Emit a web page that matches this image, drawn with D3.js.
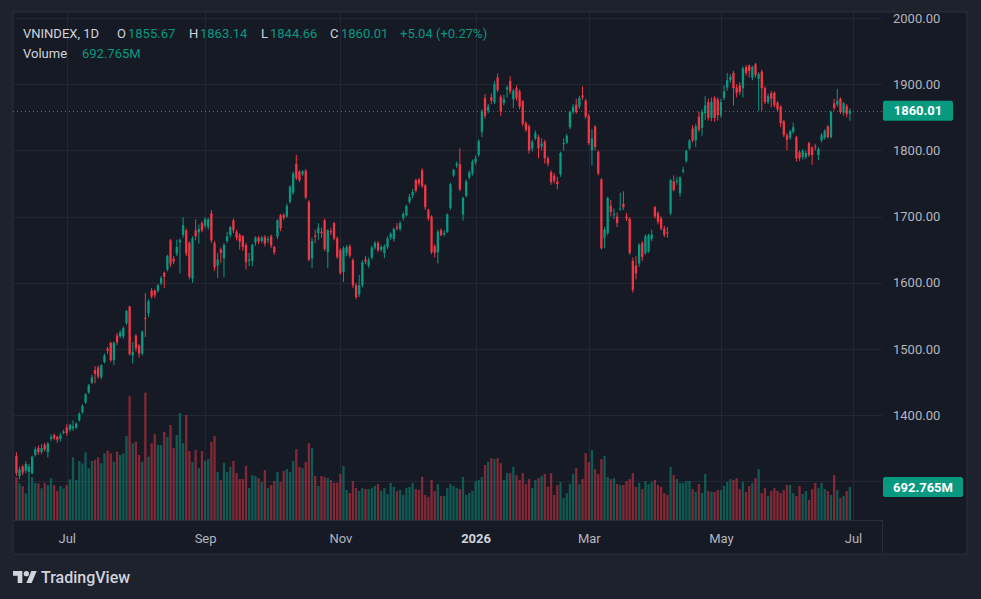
<!DOCTYPE html>
<html>
<head>
<meta charset="utf-8">
<script src="https://cdn.jsdelivr.net/npm/d3@7"></script>
<style>
    html, body { margin: 0; padding: 0; background: #1e222d; }
    svg { display: block; font-family: Roboto, "Open Sans", sans-serif; }
</style>
</head>
<body>
<svg id="chart" width="981" height="599"></svg>
<script>
// each row: [open, high, low, close, volume (M)], one array per month
const jun25 = [
    [1338,1344,1308,1312,900],[1308,1322,1303,1318,770],[1322,1325,1309,1313,714],[1316,1330,1312,1326,560],
    [1314,1326,1300,1322,805],[1312,1339,1310,1337,900],[1340,1352,1337,1348,780],[1350,1354,1340,1344,770],
    [1344,1356,1341,1350,665],[1355,1358,1345,1348,780],[1344,1359,1336,1357,735],[1364,1371,1361,1367,875],
    [1370,1372,1362,1365,735],[1367,1369,1358,1363,615],[1364,1373,1360,1369,714],[1373,1378,1371,1375,660]
];
const jul25 = [
    [1381,1386,1369,1373,735],[1378,1387,1375,1385,855],[1380,1392,1376,1383,1315],[1381,1389,1379,1387,840],
    [1392,1404,1390,1402,1240],[1404,1416,1402,1414,1190],[1419,1433,1417,1431,1420],[1434,1447,1432,1445,1085],
    [1449,1461,1447,1457,1240],[1468,1474,1448,1462,1260],[1472,1475,1455,1458,1315],[1457,1477,1454,1475,1190],
    [1480,1493,1478,1490,1400],[1500,1503,1492,1497,1455],[1509,1511,1480,1483,1400],[1483,1511,1475,1509,1225],
    [1520,1524,1506,1510,1435],[1519,1528,1516,1525,1365],[1519,1534,1515,1531,1400],[1539,1559,1536,1557,1765],
    [1564,1565,1490,1492,2600],[1490,1510,1478,1495,1610],[1520,1522,1496,1501,1645]
];
const aug25 = [
    [1505,1507,1487,1493,1365],[1493,1528,1490,1526,1225],[1547,1584,1518,1545,2675],[1554,1575,1548,1572,1330],
    [1588,1592,1576,1579,1610],[1588,1590,1577,1581,1805],[1588,1598,1585,1596,1575],[1599,1610,1596,1607,1575],
    [1615,1617,1592,1609,1850],[1620,1642,1617,1640,1745],[1664,1666,1624,1629,1995],[1636,1640,1628,1632,1510],
    [1644,1665,1640,1654,1785],[1661,1667,1614,1664,2250],[1672,1699,1668,1687,1615],[1679,1682,1640,1644,2205],
    [1660,1663,1605,1609,1450],[1606,1670,1600,1667,1220],[1679,1696,1664,1670,1470],[1676,1688,1659,1681,1090],
    [1690,1693,1676,1679,1450]
];
const sep25 = [
    [1686,1699,1682,1696,1240],[1684,1698,1680,1696,1280],[1705,1710,1660,1664,1640],[1660,1663,1618,1623,1765],
    [1626,1645,1607,1635,1010],[1650,1653,1630,1645,840],[1637,1660,1608,1657,1200],[1663,1677,1660,1670,1010],
    [1672,1686,1668,1684,1115],[1694,1697,1675,1679,1240],[1677,1680,1664,1668,985],[1672,1675,1650,1662,860],
    [1670,1672,1648,1654,860],[1657,1660,1620,1631,1135],[1633,1645,1625,1635,670],[1633,1659,1625,1657,945],
    [1661,1670,1656,1668,925],[1668,1671,1658,1662,880],[1663,1671,1660,1668,800],[1669,1672,1655,1659,1050]
];
const oct25 = [
    [1664,1670,1660,1666,670],[1670,1673,1652,1656,735],[1654,1656,1642,1646,820],[1670,1696,1666,1694,1010],
    [1702,1704,1678,1682,800],[1702,1705,1695,1698,1030],[1700,1720,1698,1716,1070],[1722,1747,1720,1745,1010],
    [1736,1768,1733,1765,1240],[1780,1793,1755,1758,1490],[1768,1770,1752,1755,1115],[1764,1770,1761,1768,1090],
    [1769,1772,1726,1729,1220],[1722,1725,1632,1635,1615],[1637,1668,1622,1663,1510],[1671,1680,1660,1669,925],
    [1675,1690,1665,1683,715],[1677,1683,1668,1675,925],[1694,1697,1648,1651,905],[1646,1681,1622,1679,880],
    [1678,1683,1672,1676,840],[1690,1692,1664,1667,780],[1667,1670,1636,1639,780]
];
const nov25 = [
    [1649,1652,1612,1615,965],[1616,1655,1601,1652,1135],[1645,1657,1640,1654,630],[1655,1658,1638,1641,565],
    [1634,1637,1592,1596,820],[1596,1600,1575,1578,670],[1582,1612,1578,1596,610],[1596,1634,1593,1631,670],
    [1635,1640,1628,1632,650],[1626,1638,1622,1634,650],[1638,1656,1635,1653,670],[1653,1663,1650,1660,715],
    [1660,1663,1646,1649,755],[1650,1657,1647,1654,610],[1645,1658,1637,1655,670],[1654,1670,1651,1667,545],
    [1668,1676,1665,1674,780],[1666,1683,1662,1681,695],[1684,1690,1679,1682,610],[1681,1693,1678,1690,630]
];
const dec25 = [
    [1698,1707,1694,1704,525],[1702,1718,1700,1716,670],[1722,1734,1719,1730,695],[1732,1742,1728,1737,780],
    [1755,1757,1736,1739,650],[1756,1758,1746,1750,630],[1770,1773,1743,1746,905],[1747,1749,1710,1714,525],
    [1710,1712,1694,1697,485],[1700,1702,1643,1646,840],[1655,1658,1638,1645,610],[1646,1680,1629,1677,755],
    [1679,1682,1670,1672,505],[1673,1679,1670,1675,505],[1677,1705,1675,1703,670],[1713,1751,1710,1749,755],
    [1762,1772,1760,1770,715],[1777,1783,1773,1780,670],[1779,1803,1738,1741,650],[1703,1730,1694,1728,905],
    [1731,1756,1729,1753,525],[1759,1770,1756,1767,565],[1765,1786,1762,1783,610]
];
const jan26 = [
    [1782,1792,1778,1788,820],[1793,1817,1790,1814,840],[1828,1862,1820,1859,905],[1879,1885,1848,1852,1155],
    [1860,1870,1856,1866,1220],[1880,1886,1870,1875,1300],[1873,1905,1870,1900,1280],[1910,1916,1888,1891,1300],
    [1881,1884,1852,1859,1195],[1872,1884,1868,1877,840],[1892,1898,1880,1895,985],[1905,1912,1885,1889,985],
    [1877,1893,1864,1890,1115],[1894,1898,1875,1879,945],[1889,1892,1862,1866,840],[1874,1876,1836,1840,985],
    [1841,1844,1828,1831,755],[1836,1839,1795,1800,860],[1803,1816,1798,1813,670],[1818,1830,1815,1826,840],
    [1820,1823,1788,1803,880]
];
const feb26 = [
    [1806,1818,1800,1810,925],[1813,1816,1780,1788,965],[1788,1791,1776,1780,695],[1767,1770,1748,1752,985],
    [1762,1766,1750,1754,525],[1753,1760,1741,1749,735],[1764,1798,1760,1796,800],[1810,1818,1800,1811,460],
    [1812,1825,1810,1822,565],[1835,1860,1832,1858,760],[1858,1870,1855,1866,965],[1869,1878,1855,1858,1090],
    [1866,1882,1863,1879,755],[1883,1897,1876,1880,860],[1875,1878,1848,1851,1405]
];
const mar26 = [
    [1852,1855,1808,1811,1220],[1800,1832,1777,1818,1470],[1836,1838,1800,1805,1070],[1798,1800,1762,1765,965],
    [1756,1758,1650,1652,1280],[1668,1684,1652,1680,1345],[1675,1730,1672,1728,905],[1716,1725,1700,1707,860],
    [1702,1712,1696,1704,880],[1700,1706,1684,1690,755],[1711,1736,1709,1712,735],[1719,1738,1710,1714,735],
    [1700,1705,1693,1697,820],[1697,1699,1642,1645,860],[1633,1638,1585,1589,985],[1626,1640,1605,1614,695],
    [1629,1660,1624,1657,780],[1660,1663,1633,1639,650],[1645,1673,1642,1670,820],[1647,1674,1645,1672,755],
    [1666,1680,1663,1673,800],[1714,1716,1697,1700,840]
];
const apr26 = [
    [1705,1708,1688,1692,735],[1697,1700,1679,1682,695],[1682,1686,1669,1672,565],[1676,1684,1668,1675,525],
    [1705,1757,1702,1755,1115],[1753,1762,1738,1740,945],[1752,1760,1748,1754,860],[1735,1761,1730,1759,780],
    [1768,1775,1765,1770,780],[1784,1801,1781,1799,820],[1803,1817,1800,1815,820],[1833,1838,1812,1815,650],
    [1815,1840,1805,1836,590],[1851,1858,1828,1831,755],[1834,1862,1822,1858,565],[1856,1882,1846,1868,965],
    [1873,1878,1845,1849,610],[1849,1880,1844,1873,590],[1879,1882,1843,1849,590],[1877,1880,1845,1853,630]
];
const may26 = [
    [1853,1878,1849,1873,630],[1879,1898,1876,1889,715],[1895,1917,1890,1906,800],[1906,1915,1902,1911,860],
    [1917,1920,1868,1894,840],[1895,1900,1880,1887,880],[1898,1903,1884,1888,650],[1894,1927,1880,1924,800],
    [1926,1929,1913,1917,590],[1928,1930,1910,1920,715],[1910,1928,1906,1926,780],[1930,1932,1910,1914,880],
    [1908,1918,1860,1915,1070],[1919,1922,1860,1894,565],[1894,1897,1870,1873,670],[1873,1886,1870,1882,505],
    [1886,1890,1865,1878,610],[1887,1889,1865,1868,670],[1872,1874,1858,1862,610],[1866,1868,1835,1841,565]
];
const jun26 = [
    [1844,1846,1820,1823,630],[1823,1826,1800,1816,735],[1819,1831,1816,1829,735],[1828,1842,1825,1835,565],
    [1820,1822,1783,1788,505],[1797,1800,1784,1788,715],[1790,1802,1786,1799,545],[1790,1800,1787,1796,610],
    [1811,1813,1790,1793,420],[1804,1806,1778,1793,650],[1806,1810,1800,1805,780],[1793,1805,1785,1802,670],
    [1815,1826,1812,1823,780],[1819,1832,1816,1829,650],[1836,1838,1818,1820,610],[1820,1860,1818,1858,525],
    [1871,1878,1860,1864,945],[1869,1893,1866,1875,630],[1878,1880,1855,1858,460],[1857,1873,1852,1871,505],
    [1867,1870,1850,1854.97,610],[1855.67,1863.14,1844.66,1860.01,692.765]
];

const priceTicks = [1300, 1400, 1500, 1600, 1700, 1800, 1900, 2000];
const timeLabels = ["Jul", "Sep", "Nov", "2026", "Mar", "May", "Jul"];

const months = [jun25, jul25, aug25, sep25, oct25, nov25, dec25, jan26, feb26, mar26, apr26, may26, jun26];
const bars = months.flat().map((r, i) => ({ i, o: r[0], h: r[1], l: r[2], c: r[3], v: r[4] }));

// first bar index of every month, the last "Jul" is one past the end
const starts = [];
let n = 0;
months.forEach(m => { starts.push(n); n += m.length; });
const tickIdx = [starts[1], starts[3], starts[5], starts[7], starts[9], starts[11], n];

const UP = "#089981", DOWN = "#f23645";
const plot = { left: 13, right: 882, top: 12, bottom: 520 };

const svg = d3.select("#chart");

const x = d3.scaleLinear().domain([0, n]).range([16.4, 853]);
const y = d3.scaleLinear().domain([1300, 2000]).range([481.2, 18]);
const yVol = d3.scaleLinear().domain([0, 2800]).range([plot.bottom, plot.bottom - 133.3]);
const bodyW = 2.3;

// panel
svg.append("rect").attr("x", 13).attr("y", 12).attr("width", 954).attr("height", 542)
    .attr("fill", "#161a25").attr("stroke", "#2a2e39");
svg.append("line").attr("x1", 13).attr("x2", 882).attr("y1", 520.5).attr("y2", 520.5).attr("stroke", "#2a2e39");
svg.append("line").attr("x1", 882.5).attr("x2", 882.5).attr("y1", 520).attr("y2", 554).attr("stroke", "#2a2e39");

svg.append("clipPath").attr("id", "plotclip").append("rect")
    .attr("x", plot.left).attr("y", plot.top).attr("width", plot.right - plot.left).attr("height", plot.bottom - plot.top);

const g = svg.append("g").attr("clip-path", "url(#plotclip)");

// grid
g.append("g").selectAll("line").data(priceTicks).join("line")
    .attr("x1", plot.left).attr("x2", plot.right)
    .attr("y1", d => Math.round(y(d)) + 0.5).attr("y2", d => Math.round(y(d)) + 0.5)
    .attr("stroke", "#232733");
g.append("g").selectAll("line").data(tickIdx).join("line")
    .attr("x1", d => Math.round(x(d)) + 0.5).attr("x2", d => Math.round(x(d)) + 0.5)
    .attr("y1", plot.top).attr("y2", plot.bottom)
    .attr("stroke", "#232733");

// volume
g.append("g").selectAll("rect").data(bars).join("rect")
    .attr("x", d => x(d.i) - bodyW / 2)
    .attr("y", d => yVol(d.v))
    .attr("width", bodyW)
    .attr("height", d => yVol(0) - yVol(d.v))
    .attr("fill", d => d.c >= d.o ? UP : DOWN)
    .attr("fill-opacity", 0.5);

// candles
const candle = g.append("g").selectAll("g").data(bars).join("g");
candle.append("line")
    .attr("x1", d => x(d.i)).attr("x2", d => x(d.i))
    .attr("y1", d => y(d.h)).attr("y2", d => y(d.l))
    .attr("stroke", d => d.c >= d.o ? UP : DOWN).attr("stroke-width", 1);
candle.append("rect")
    .attr("x", d => x(d.i) - bodyW / 2)
    .attr("y", d => y(Math.max(d.o, d.c)))
    .attr("width", bodyW)
    .attr("height", d => Math.max(1, Math.abs(y(d.o) - y(d.c))))
    .attr("fill", d => d.c >= d.o ? UP : DOWN);

const last = bars[bars.length - 1];
const prev = bars[bars.length - 2];

// last price line
g.append("line")
    .attr("x1", plot.left).attr("x2", plot.right)
    .attr("y1", Math.round(y(last.c)) + 0.5).attr("y2", Math.round(y(last.c)) + 0.5)
    .attr("stroke", UP).attr("stroke-dasharray", "1,3");

// price axis (the 1300 label sits under the volume tag, as on the original)
const yAxis = svg.append("g")
    .attr("transform", "translate(893,0)")
    .call(d3.axisRight(y).tickValues(priceTicks).tickSize(0).tickPadding(0).tickFormat(d3.format(".2f")));
yAxis.select(".domain").remove();
yAxis.selectAll("text").attr("fill", "#b2b5be").attr("font-size", "13px").attr("font-family", "Roboto, sans-serif");

// time axis
const xAxis = svg.append("g")
    .attr("transform", "translate(0,534)")
    .call(d3.axisBottom(x).tickValues(tickIdx).tickSize(0).tickPadding(0).tickFormat((d, i) => timeLabels[i]));
xAxis.select(".domain").remove();
xAxis.selectAll("text").attr("font-size", "13px").attr("font-family", "Roboto, sans-serif")
    .attr("font-weight", (d, i) => timeLabels[i] === "2026" ? "bold" : "normal")
    .attr("fill", (d, i) => timeLabels[i] === "2026" ? "#d1d4dc" : "#b2b5be");

// last value labels
const fmt = d3.format(".2f");
svg.append("rect").attr("x", 883).attr("y", y(last.c) - 10).attr("width", 70).attr("height", 20)
    .attr("rx", 2).attr("fill", UP);
svg.append("text").attr("x", 918).attr("y", y(last.c)).attr("dy", "0.35em").attr("text-anchor", "middle")
    .attr("fill", "#ffffff").attr("font-size", "13px").attr("font-weight", "bold").text(fmt(last.c));
svg.append("rect").attr("x", 883).attr("y", yVol(last.v) - 10).attr("width", 80).attr("height", 20)
    .attr("rx", 2).attr("fill", UP);
svg.append("text").attr("x", 923).attr("y", yVol(last.v)).attr("dy", "0.35em").attr("text-anchor", "middle")
    .attr("fill", "#ffffff").attr("font-size", "13px").attr("font-weight", "bold").text(d3.format(".3f")(last.v) + "M");

// legend
const chg = last.c - prev.c;
const legend = [
    ["VNINDEX, 1D", 23, "#d1d4dc"],
    ["O", 117, "#d1d4dc"], [fmt(last.o), 128, UP],
    ["H", 189, "#d1d4dc"], [fmt(last.h), 200, UP],
    ["L", 261, "#d1d4dc"], [fmt(last.l), 270, UP],
    ["C", 330, "#d1d4dc"], [fmt(last.c), 341, UP],
    [`+${fmt(chg)} (+${fmt(chg / prev.c * 100)}%)`, 400, UP]
];
svg.append("g").selectAll("text").data(legend).join("text")
    .attr("x", d => d[1]).attr("y", 37.5)
    .attr("fill", d => d[2]).attr("font-size", "13px").text(d => d[0]);
svg.append("text").attr("x", 23).attr("y", 57.5).attr("fill", "#d1d4dc").attr("font-size", "13px").text("Volume");
svg.append("text").attr("x", 82).attr("y", 57.5).attr("fill", UP).attr("font-size", "13px").text(d3.format(".3f")(last.v) + "M");

// logo
const logo = svg.append("g").attr("transform", "translate(13,568.3) scale(0.667)").attr("fill", "#d1d4dc");
logo.append("path").attr("d", "M14 22H7V11H0V4h14v18zM28 22h-8l7.5-18h8L28 22z");
logo.append("circle").attr("cx", 20).attr("cy", 8).attr("r", 4);
svg.append("text").attr("x", 41).attr("y", 583).attr("fill", "#d1d4dc")
    .attr("font-size", "16px").attr("font-weight", 500).text("TradingView");
</script>
</body>
</html>
